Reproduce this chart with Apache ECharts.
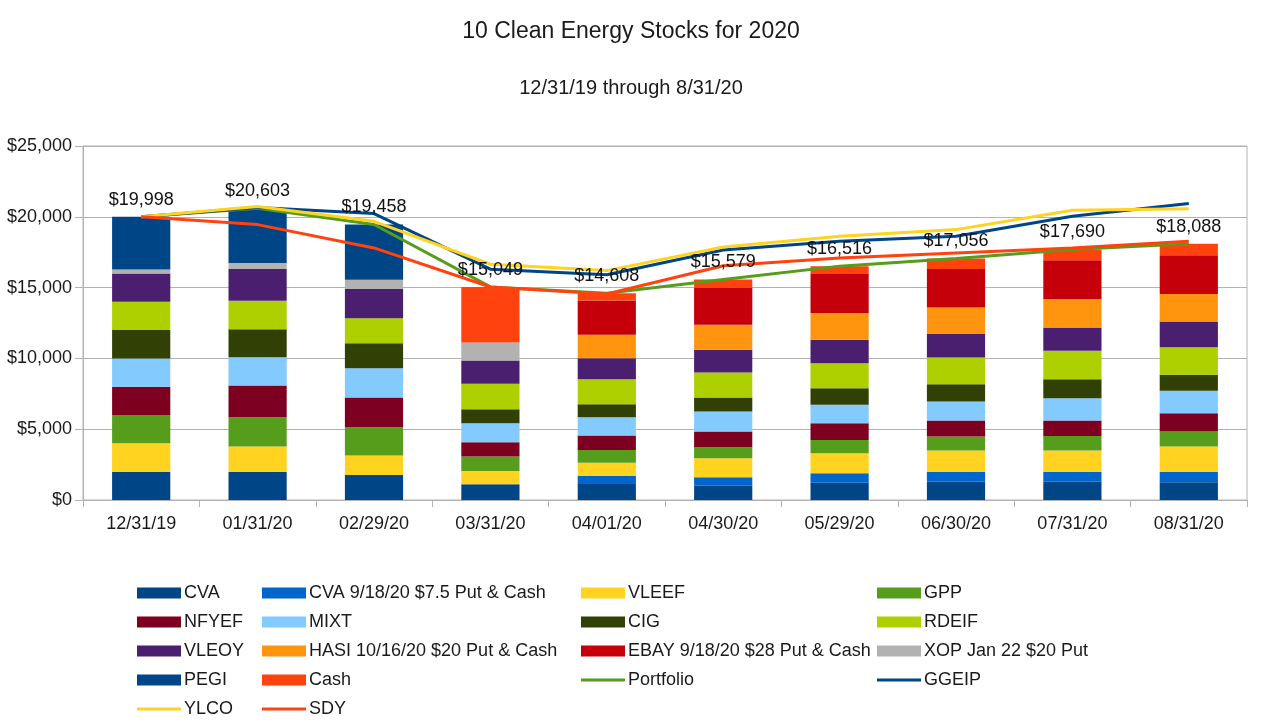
<!DOCTYPE html>
<html>
<head>
<meta charset="utf-8">
<script src="https://cdn.jsdelivr.net/npm/echarts@6/dist/echarts.min.js"></script>
<style>
html,body{margin:0;padding:0;background:#fff;}
#chart{width:1262px;height:727px;}
</style>
</head>
<body>
<div id="chart"></div>
<script>
const categories = ['12/31/19','01/31/20','02/29/20','03/31/20','04/01/20','04/30/20','05/29/20','06/30/20','07/31/20','08/31/20'];
const yTicks = [0, 5000, 10000, 15000, 20000, 25000];

const cva    = [2000,2000,1768,1108,1131,1014,1226,1296,1296,1249];
const cvaPut = [0,0,0,0,589,589,660,707,707,754];
const vleef  = [2000,1770,1367,943,919,1344,1414,1485,1485,1768];
const gpp    = [2000,2075,2000,1014,896,778,943,990,1037,1061];
const nfyef  = [2000,2240,2098,1014,1014,1108,1179,1131,1084,1296];
const mixt   = [2000,2000,2075,1344,1296,1414,1296,1344,1579,1579];
const cig    = [2000,1980,1768,990,919,990,1179,1226,1344,1131];
const rdeif  = [2000,2000,1768,1792,1768,1768,1768,1886,2004,1957];
const vleoy  = [2000,2240,2051,1650,1485,1603,1650,1650,1650,1815];
const hasi   = [0,0,0,0,1650,1768,1886,1886,2004,1933];
const ebay   = [0,0,0,0,2428,2593,2758,2711,2735,2735];
const xop    = [280,425,660,1273,0,0,0,0,0,0];
const pegi   = [3718,3873,3903,0,0,0,0,0,0,0];
const cash   = [0,0,0,3921,513,610,557,744,765,810];

const portfolio = [19998,20603,19458,15049,14608,15579,16516,17056,17690,18088];
const ggeip = [19998,20650,20226,16300,15912,17650,18270,18620,20040,20933];
const ylco  = [19998,20720,19680,16650,16200,17870,18620,19095,20460,20560];
const sdy   = [19998,19448,17800,15040,14545,16548,17090,17445,17800,18270];

const FONT = '"Liberation Sans", Arial, sans-serif';
const TXT = '#1a1a1a';
const GRID = '#b3b3b3';

const barDefs = [
  ['CVA', cva, '#004586'],
  ['CVA 9/18/20 $7.5 Put & Cash', cvaPut, '#0066cc'],
  ['VLEEF', vleef, '#ffd320'],
  ['GPP', gpp, '#579d1c'],
  ['NFYEF', nfyef, '#7e0021'],
  ['MIXT', mixt, '#83caff'],
  ['CIG', cig, '#314004'],
  ['RDEIF', rdeif, '#aecf00'],
  ['VLEOY', vleoy, '#4b1f6f'],
  ['HASI 10/16/20 $20 Put & Cash', hasi, '#ff950e'],
  ['EBAY 9/18/20 $28 Put & Cash', ebay, '#c5000b'],
  ['XOP Jan 22 $20 Put', xop, '#b2b2b2'],
  ['PEGI', pegi, '#004586'],
  ['Cash', cash, '#ff420e']
];
const lineDefs = [
  ['Portfolio', portfolio, '#579d1c'],
  ['GGEIP', ggeip, '#004586'],
  ['YLCO', ylco, '#ffd320'],
  ['SDY', sdy, '#ff420e']
];

const series = [];
barDefs.forEach(([name, data, color]) => {
  series.push({
    name, type: 'bar', stack: 'total', data,
    barWidth: '50%',
    itemStyle: { color },
    emphasis: { disabled: true }
  });
});
lineDefs.forEach(([name, data, color]) => {
  series.push({
    name, type: 'line', data,
    symbol: 'none', showSymbol: false,
    lineStyle: { color, width: 3 },
    itemStyle: { color },
    z: 3
  });
});
series.push({
  name: 'labels', type: 'scatter', data: portfolio,
  symbolSize: 0, z: 20,
  itemStyle: { opacity: 1 },
  label: {
    show: true, position: 'top', distance: 8,
    fontFamily: FONT, fontSize: 18, color: '#111', opacity: 1,
    formatter: p => '$' + p.value.toLocaleString('en-US')
  }
});

const LINE_ICON = 'path://M0,0 L44,0 L44,3 L0,3 Z';
function legendItem(name) {
  const isBar = barDefs.some(d => d[0] === name);
  return isBar ? { name, icon: 'rect' } : { name, icon: LINE_ICON };
}
const cols = [
  { left: 137, items: ['CVA','NFYEF','VLEOY','PEGI','YLCO'] },
  { left: 262, items: ['CVA 9/18/20 $7.5 Put & Cash','MIXT','HASI 10/16/20 $20 Put & Cash','Cash','SDY'] },
  { left: 581, items: ['VLEEF','CIG','EBAY 9/18/20 $28 Put & Cash','Portfolio'] },
  { left: 877, items: ['GPP','RDEIF','XOP Jan 22 $20 Put','GGEIP'] }
];
const legends = cols.map(c => ({
  orient: 'vertical', left: c.left, top: 583,
  itemWidth: 44, itemHeight: 11, itemGap: 9, padding: 0,
  selectedMode: false, symbolKeepAspect: true,
  textStyle: { fontFamily: FONT, fontSize: 18, color: TXT, lineHeight: 20, padding: [0,0,0,-2] },
  data: c.items.map(legendItem)
}));

const chart = echarts.init(document.getElementById('chart'), null, { renderer: 'canvas' });
chart.setOption({
  animation: false,
  backgroundColor: '#fff',
  title: [
    { text: '10 Clean Energy Stocks for 2020', left: 'center', top: 15,
      textStyle: { fontFamily: FONT, fontSize: 23, fontWeight: 'normal', color: TXT } },
    { text: '12/31/19 through 8/31/20', left: 'center', top: 73,
      textStyle: { fontFamily: FONT, fontSize: 20, fontWeight: 'normal', color: TXT } }
  ],
  legend: legends,
  grid: { left: 83, right: 15, top: 146, bottom: 227, show: true, borderColor: GRID, borderWidth: 1 },
  xAxis: {
    type: 'category', data: categories, boundaryGap: true,
    axisLine: { lineStyle: { color: GRID } },
    axisTick: { show: true, interval: 0, length: 7, lineStyle: { color: GRID } },
    axisLabel: { fontFamily: FONT, fontSize: 18, color: TXT, margin: 15, interval: 0 }
  },
  yAxis: {
    type: 'value', min: yTicks[0], max: yTicks[yTicks.length - 1], interval: yTicks[1] - yTicks[0],
    axisLine: { show: true, lineStyle: { color: GRID } },
    axisTick: { show: true, length: 8, lineStyle: { color: GRID } },
    splitLine: { lineStyle: { color: GRID } },
    axisLabel: { fontFamily: FONT, fontSize: 18, color: TXT, margin: 11,
      formatter: v => '$' + v.toLocaleString('en-US') }
  },
  series
});
</script>
</body>
</html>
